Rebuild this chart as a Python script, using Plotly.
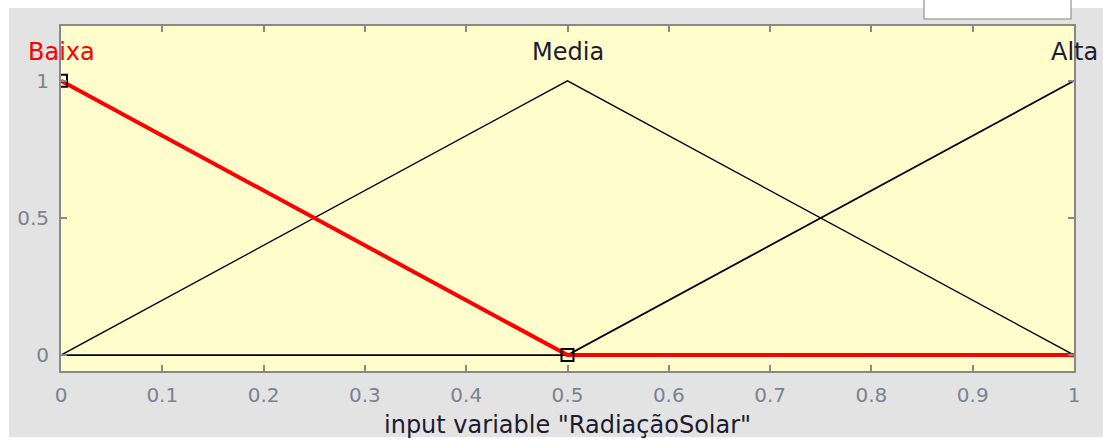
import plotly.graph_objects as go

# Membership functions of input variable "RadiaçãoSolar"
x_points = [0.0, 0.5, 1.0]
mf_names = ["Baixa", "Media", "Alta"]
baixa = [1.0, 0.0, 0.0]
media = [0.0, 1.0, 0.0]
alta = [0.0, 0.0, 1.0]
mf_peaks = [0.0, 0.5, 1.0]

# Handles of the selected function (Baixa)
handle_x = [0.0, 0.5]
handle_y = [1.0, 0.0]

x_ticks = [0, 0.1, 0.2, 0.3, 0.4, 0.5, 0.6, 0.7, 0.8, 0.9, 1]
x_tick_text = ["0", "0.1", "0.2", "0.3", "0.4", "0.5", "0.6", "0.7", "0.8", "0.9", "1"]
y_ticks = [0, 0.5, 1]
y_tick_text = ["0", "0.5", "1"]

W, H = 1103, 439
L, R, T, B = 61, 29, 26, 68
pw, ph = W - L - R, H - T - B


def px(xp):
    return (xp - L) / pw


def py(yp):
    return 1 - (yp - T) / ph


fig = go.Figure()

fig.add_trace(go.Scatter(x=x_points, y=media, mode="lines",
                         line=dict(color="black", width=1.3), hoverinfo="skip"))
fig.add_trace(go.Scatter(x=x_points, y=alta, mode="lines",
                         line=dict(color="black", width=1.8), hoverinfo="skip"))
fig.add_trace(go.Scatter(x=x_points, y=baixa, mode="lines",
                         line=dict(color="#ff0000", width=4), hoverinfo="skip"))
fig.add_trace(go.Scatter(x=handle_x, y=handle_y, mode="markers",
                         marker=dict(symbol="square-open", size=12, color="black",
                                     line=dict(width=2, color="black")),
                         hoverinfo="skip"))

label_colors = ["#ff0000", "#1c1c2e", "#1c1c2e"]
for name, xp, col in zip(mf_names, mf_peaks, label_colors):
    fig.add_annotation(x=xp, y=1.106, text=name, showarrow=False,
                       xanchor="center", yanchor="middle",
                       font=dict(family="DejaVu Sans", size=24, color=col))

fig.add_annotation(x=0.5, xref="paper", y=py(425), yref="paper",
                   text='input variable "RadiaçãoSolar"', showarrow=False,
                   xanchor="center", yanchor="middle",
                   font=dict(family="DejaVu Sans", size=24, color="#1c1c2e"))

shapes = [
    # white window margins (top, left, bottom)
    dict(type="rect", xref="paper", yref="paper", layer="above",
         x0=px(-5), x1=px(W + 5), y0=py(8), y1=py(-5),
         fillcolor="white", line=dict(width=0)),
    dict(type="rect", xref="paper", yref="paper", layer="above",
         x0=px(-5), x1=px(9), y0=py(H + 5), y1=py(-5),
         fillcolor="white", line=dict(width=0)),
    dict(type="rect", xref="paper", yref="paper", layer="above",
         x0=px(-5), x1=px(W + 5), y0=py(H + 5), y1=py(437),
         fillcolor="white", line=dict(width=0)),
    # edit box at the top right
    dict(type="rect", xref="paper", yref="paper", layer="above",
         x0=px(924), x1=px(1071), y0=py(19), y1=py(-5),
         fillcolor="white", line=dict(width=1.5, color="#a8a8a8")),
]

axis_common = dict(showline=True, linecolor="#888888", linewidth=2, mirror="ticks",
                   ticks="inside", ticklen=6, tickwidth=1.5, tickcolor="#888888",
                   showgrid=False, zeroline=False,
                   tickfont=dict(family="DejaVu Sans", size=20, color="#7d8193"))

fig.update_layout(
    width=W, height=H,
    margin=dict(l=L, r=R, t=T, b=B, pad=0),
    paper_bgcolor="#e3e3e3", plot_bgcolor="#fffdcc",
    showlegend=False, shapes=shapes,
    xaxis=dict(range=[0, 1], tickvals=x_ticks, ticktext=x_tick_text,
               ticklabelstandoff=5, **axis_common),
    yaxis=dict(range=[-0.058, 1.2], tickvals=y_ticks, ticktext=y_tick_text,
               ticklabelstandoff=6, **axis_common),
)

fig.write_html("out.html")
